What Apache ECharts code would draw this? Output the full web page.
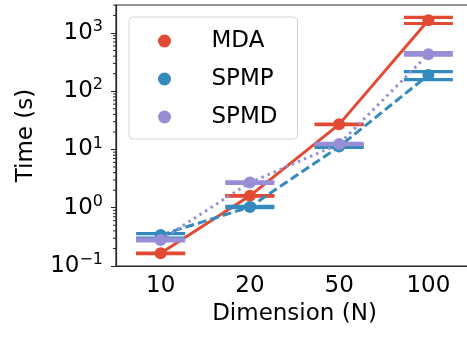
<!DOCTYPE html>
<html>
<head>
<meta charset="utf-8">
<script src="https://cdn.jsdelivr.net/npm/echarts@6/dist/echarts.min.js"></script>
<style>html,body{margin:0;padding:0;background:#fff}#c{width:467px;height:337px}</style>
</head>
<body>
<div id="c"></div>
<script>
const categories = ['10', '20', '50', '100'];
const seriesNames = ['MDA', 'SPMP', 'SPMD'];
const mdaValues = [0.165, 1.6, 27, 1650];
const spmpValues = [0.34, 1.03, 11.2, 189];
const spmdValues = [0.28, 2.7, 12.4, 433];
const mdaLow = [0.163, 1.58, 26.6, 1455];
const mdaHigh = [0.167, 1.62, 27.4, 1845];
const spmpLow = [0.30, 1.0, 10.9, 158];
const spmpHigh = [0.36, 1.06, 11.5, 217];
const spmdLow = [0.27, 2.62, 12.1, 416];
const spmdHigh = [0.29, 2.78, 12.7, 459];
const minorTickValues = [0.2,0.3,0.4,0.5,0.6,0.7,0.8,0.9,2,3,4,5,6,7,8,9,20,30,40,50,60,70,80,90,200,300,400,500,600,700,800,900,2000,3000];

const colors = ['#E24A33', '#348ABD', '#988ED5'];
const FONT = 'DejaVu Sans';

function errData(low, high) {
  return categories.map((c, i) => [i, low[i], high[i]]);
}
function errRender(params, api) {
  const x = api.value(0);
  const pLo = api.coord([x, api.value(1)]);
  const pHi = api.coord([x, api.value(2)]);
  const hw = 24.5;
  const st = {stroke: api.visual('color'), lineWidth: 3.2};
  return {type: 'group', children: [
    {type: 'line', shape: {x1: pLo[0] - hw, y1: pLo[1], x2: pLo[0] + hw, y2: pLo[1]}, style: st},
    {type: 'line', shape: {x1: pHi[0] - hw, y1: pHi[1], x2: pHi[0] + hw, y2: pHi[1]}, style: st},
    {type: 'line', shape: {x1: pLo[0], y1: pLo[1], x2: pHi[0], y2: pHi[1]}, style: st}
  ]};
}

const chart = echarts.init(document.getElementById('c'), null, {renderer: 'canvas'});
const vals = [mdaValues, spmpValues, spmdValues];
const lows = [mdaLow, spmpLow, spmdLow];
const highs = [mdaHigh, spmpHigh, spmdHigh];
const dashes = ['solid', [9, 4], [2.5, 4.1]];
const series = [];
seriesNames.forEach((n, k) => {
  series.push({
    name: n + '_err', type: 'custom', renderItem: errRender, data: errData(lows[k], highs[k]),
    itemStyle: {color: colors[k]}, z: 2 + 2 * k, clip: false, silent: true
  });
  series.push({
    name: n, type: 'line', data: vals[k], symbol: 'circle', symbolSize: 12,
    itemStyle: {color: colors[k]}, lineStyle: {color: colors[k], width: 3, type: dashes[k]},
    z: 3 + 2 * k, animation: false
  });
});
series.push({
  name: 'minor', type: 'custom', clip: false, silent: true, z: 10,
  data: minorTickValues.map(v => [0, v]),
  renderItem: function (params, api) {
    const y = api.coord([0, api.value(1)])[1];
    const x0 = params.coordSys.x;
    return {type: 'line', shape: {x1: x0 - 3, y1: y, x2: x0, y2: y}, style: {stroke: '#262626', lineWidth: 1}};
  }
});

chart.setOption({
  animation: false,
  grid: {left: 116, width: 357, top: 5, height: 261, outerBoundsMode: 'none', containLabel: false,
         show: true, borderColor: '#262626', borderWidth: 1.2, backgroundColor: 'transparent'},
  legend: {
    data: seriesNames, orient: 'vertical', left: 129, top: 17, icon: 'circle',
    itemWidth: 14, itemHeight: 13, itemGap: 10,
    padding: [10, 20, 8, 29],
    borderColor: '#d5d5d5', borderWidth: 1, borderRadius: 4, backgroundColor: 'rgba(255,255,255,0.8)',
    textStyle: {fontFamily: FONT, fontSize: 23, color: '#000', lineHeight: 28, padding: [0, 0, 0, 35]}
  },
  xAxis: {
    type: 'category', data: categories, boundaryGap: true,
    name: 'Dimension (N)', nameLocation: 'middle', nameGap: 32,
    nameTextStyle: {fontFamily: FONT, fontSize: 23, color: '#000'},
    axisLine: {lineStyle: {color: '#262626', width: 1.2}},
    axisTick: {alignWithLabel: true, length: 5, lineStyle: {color: '#262626'}},
    axisLabel: {fontFamily: FONT, fontSize: 23, color: '#000', margin: 9},
    splitLine: {show: false}
  },
  yAxis: {
    type: 'log', logBase: 10, min: 0.1, max: 3020,
    name: 'Time (s)', nameLocation: 'middle', nameGap: 78,
    nameTextStyle: {fontFamily: FONT, fontSize: 23, color: '#000'},
    axisLine: {show: true, lineStyle: {color: '#262626', width: 1.2}},
    axisTick: {show: true, length: 5, lineStyle: {color: '#262626'}},
    splitLine: {show: false},
    axisLabel: {
      margin: 13, showMaxLabel: false,
      formatter: function (v) {
        const e = Math.round(Math.log10(v));
        return '{b|10}{s|' + (e < 0 ? '\u2212' + (-e) : e) + '}';
      },
      rich: {
        b: {fontFamily: FONT, fontSize: 23, color: '#000', lineHeight: 28},
        s: {fontFamily: FONT, fontSize: 16, color: '#000', lineHeight: 28, padding: [0, 0, 12, 0]}
      }
    }
  },
  series: series
});
</script>
</body>
</html>
